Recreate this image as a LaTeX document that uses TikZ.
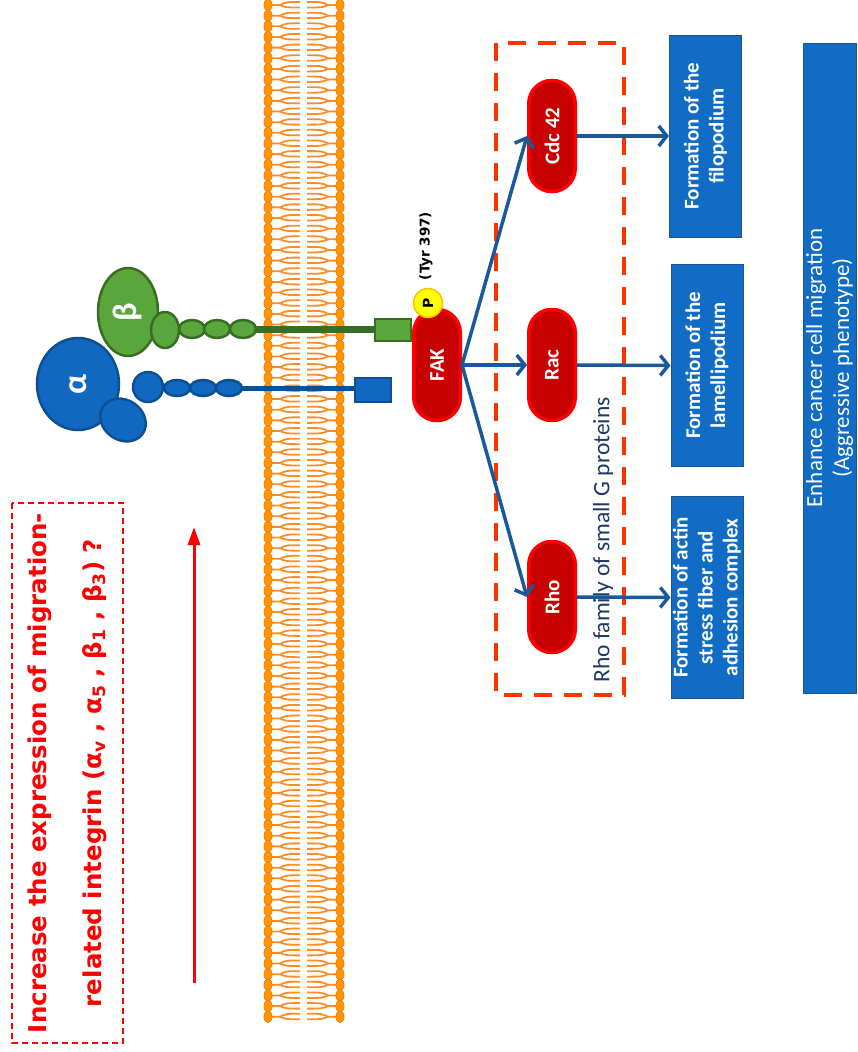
\documentclass[tikz,border=0pt]{standalone}
\usepackage{fontspec}
\setmainfont{Carlito}
\newfontfamily\verdfont{DejaVu Sans}
\usetikzlibrary{arrows.meta}
\usetikzlibrary{positioning}
\usepackage{xcolor}

\definecolor{intblue}{RGB}{16,104,192}
\definecolor{intblueline}{RGB}{12,80,148}
\definecolor{intgreen}{RGB}{88,166,60}
\definecolor{intgreenline}{RGB}{56,110,36}
\definecolor{fakred}{RGB}{200,0,0}
\definecolor{fakline}{RGB}{255,0,0}
\definecolor{boxblue}{RGB}{16,108,196}
\definecolor{boxline}{RGB}{30,84,140}
\definecolor{arrowblue}{RGB}{25,88,155}
\definecolor{famdash}{RGB}{255,51,0}
\definecolor{famtext}{RGB}{31,56,100}
\definecolor{lipidhead}{RGB}{255,152,0}
\definecolor{lipidline}{RGB}{255,120,0}
\definecolor{lipidtail}{RGB}{255,140,38}
\definecolor{headyellow}{RGB}{255,255,0}
\definecolor{headyellowline}{RGB}{255,192,0}

\tikzset{
	gtpase/.style={rotate=90, draw=fakline, fill=fakred, line width=3.5pt, rounded corners=23pt,
		minimum width=111pt, minimum height=46.5pt, inner sep=0pt, text=white,
		font=\fontsize{21}{23}\selectfont\bfseries},
	effectbox/.style={rotate=90, draw=boxline, fill=boxblue, line width=1pt, inner sep=0pt,
		minimum width=202pt, minimum height=72pt, text=white, align=center,
		font=\fontsize{21}{25}\selectfont\bfseries},
	sigarrow/.style={arrowblue, line width=3.5pt, -{Straight Barb[length=8pt,width=20pt]}},
	intA/.style={draw=intblueline, fill=intblue, line width=2.5pt},
	intB/.style={draw=intgreenline, fill=intgreen, line width=2.5pt},
}

\begin{document}
\begin{tikzpicture}[x=1pt, y=-1pt]
		\useasboundingbox (0,0) rectangle (857,1052);

		% lipid bilayer
		\foreach \i in {0,...,95} {
			\pgfmathsetmacro{\yy}{5+10.65*\i}
			\draw[lipidtail, line width=1.8pt] (272,\yy) -- (280,\yy) .. controls (286,\yy-3) .. (300,\yy-3);
			\draw[lipidtail, line width=1.8pt] (280,\yy) .. controls (286,\yy+2.5) .. (300,\yy+2.5);
			\draw[lipidtail, line width=1.8pt] (336,\yy) -- (328,\yy) .. controls (322,\yy-3) .. (307,\yy-3);
			\draw[lipidtail, line width=1.8pt] (328,\yy) .. controls (322,\yy+2.5) .. (307,\yy+2.5);
			\draw[draw=lipidline, fill=lipidhead, line width=0.8pt] (268,\yy) ellipse [x radius=4, y radius=5.8];
			\draw[draw=lipidline, fill=lipidhead, line width=0.8pt] (340,\yy) ellipse [x radius=4, y radius=5.8];
		}

		% integrin alpha
		\draw[intblueline, line width=5pt] (160,388) -- (356,388);
		\draw[intA] (78,384) ellipse [x radius=41, y radius=46];
		\draw[intA, rotate around={-35:(123,420)}] (123,420) ellipse [x radius=24, y radius=20];
		\draw[intA] (148,387) circle [radius=15];
		\foreach \x in {177,203,229}
			\draw[intA] (\x,388) ellipse [x radius=13, y radius=8];
		\draw[intA] (355,378) rectangle (391,402);
		\node[rotate=90, text=white, font=\fontsize{34}{34}\selectfont\bfseries] (alpha) at (78,384) {α};

		% integrin beta
		\draw[intgreenline, line width=7pt] (250,329) -- (376,329);
		\draw[intB] (128,312) ellipse [x radius=30, y radius=44];
		\draw[intB] (165,330) ellipse [x radius=14, y radius=18];
		\foreach \x in {192,217,243}
			\draw[intB] (\x,329) ellipse [x radius=13, y radius=9];
		\draw[intB] (375,319) rectangle (411,341);
		\node[rotate=90, text=white, font=\fontsize{34}{34}\selectfont\bfseries] (beta) at (128,312) {β};

		% FAK and the Rho family
		\node[gtpase] (fak) at (437,365) {FAK};
		\node[circle, draw=headyellowline, fill=headyellow, line width=1.5pt, minimum size=29pt, inner sep=0pt,
			rotate=90, font=\verdfont\fontsize{14}{14}\selectfont\bfseries] (phos) at (428,303) {P};
		\node[rotate=90, font=\verdfont\fontsize{13.5}{14}\selectfont\bfseries] (tyr) at (426,246) {(Tyr 397)};

		\draw[famdash, line width=4pt, dash pattern=on 18pt off 12pt] (496,43) rectangle (624,695);
		\node[rotate=90, text=famtext, font=\fontsize{23.5}{25}\selectfont] (famlabel) at (603,540) {Rho family of small G proteins};

		\node[gtpase] (cdc) at (552,136) {Cdc 42};
		\node[gtpase] (rac) at (552,365) {Rac};
		\node[gtpase] (rho) at (552,597) {Rho};

		\node[effectbox] (filo) at (705.5,136) {Formation of the\\filopodium};
		\node[effectbox] (lamel) at (707,365.5) {Formation of the\\lamellipodium};
		\node[effectbox] (actin) at (707,597.5) {Formation of actin\\stress fiber and\\adhesion complex};
		\node[effectbox, minimum width=650pt, minimum height=53pt, font=\fontsize{23}{27}\selectfont] (enhance) at (829.5,368)
			{Enhance cancer cell migration\\(Aggressive phenotype)};

		\draw[sigarrow] (fak.south) -- (cdc.north);
		\draw[sigarrow] (fak.south) -- (rac.north);
		\draw[sigarrow] (fak.south) -- (rho.north);
		\draw[sigarrow] (cdc.south) -- (filo.north);
		\draw[sigarrow] (rac.south) -- (lamel.north);
		\draw[sigarrow] (rho.south) -- (actin.north);

		% question box and arrow
		\node[rotate=90, draw=red, dash pattern=on 6pt off 4pt, line width=1.2pt, minimum width=540pt, minimum height=111pt,
			text=red, align=center, font=\verdfont\fontsize{24.5}{55}\selectfont\bfseries] (question) at (67.5,773)
			{Increase the expression of migration-\\related integrin (α\textsubscript{v} , α\textsubscript{5} , β\textsubscript{1} , β\textsubscript{3}) ?};
		\coordinate (upbase) at (194,983);
		\coordinate (uptip) at (194,527);
		\draw[red, line width=3pt, -{Triangle[length=18pt,width=12pt]}] (upbase) -- (uptip);
	\end{tikzpicture}
\end{document}
